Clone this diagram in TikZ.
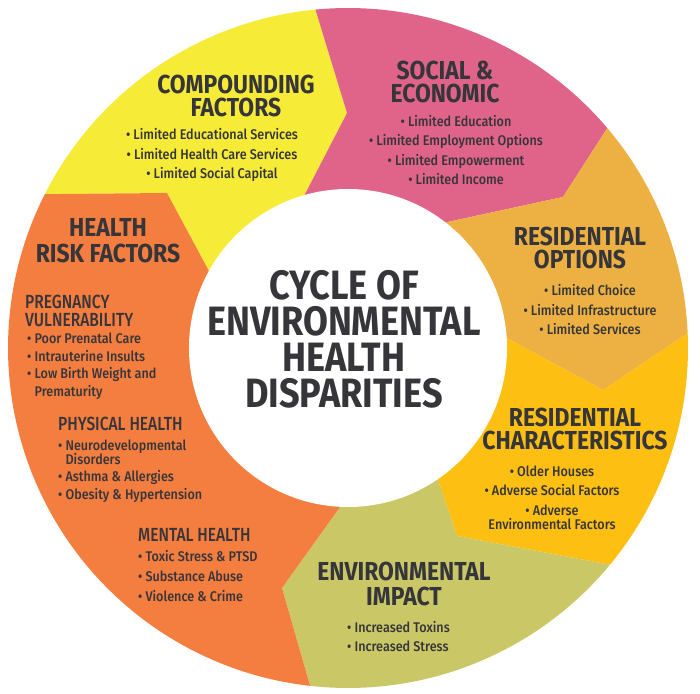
\documentclass[tikz,border=0pt]{standalone}
\usepackage{fontspec}
\usepackage{tikz}
\setmainfont{Fira Sans}
\newfontfamily\headfont{Fira Sans}[FakeStretch=0.88]
\newfontfamily\itemfont{Fira Sans Medium}[FakeStretch=0.9]
\newfontfamily\subfont{Fira Sans Medium}[FakeStretch=0.82]

\definecolor{cfyellow}{HTML}{F6EB36}
\definecolor{cfpink}{HTML}{E0648A}
\definecolor{cfamber}{HTML}{EDB043}
\definecolor{cfgold}{HTML}{FDBF12}
\definecolor{cfolive}{HTML}{CAC767}
\definecolor{cforange}{HTML}{F47D40}
\definecolor{cftext}{HTML}{35353A}

\tikzset{
  head/.style={font=\headfont\bfseries\fontsize{26}{23.5}\selectfont, text=cftext, align=center, inner sep=0pt},
  items/.style={font=\itemfont\fontsize{14}{19.5}\selectfont, text=cftext, align=center, inner sep=0pt},
  subhead/.style={font=\subfont\fontsize{19}{18}\selectfont, text=cftext, align=left, inner sep=0pt, anchor=west},
  subitems/.style={font=\itemfont\fontsize{14}{17.5}\selectfont, text=cftext, align=left, inner sep=0pt, anchor=west},
  title/.style={font=\headfont\bfseries\fontsize{41}{36}\selectfont, text=cftext, align=center, inner sep=0pt}
}

\begin{document}
\begin{tikzpicture}[x=1pt, y=1pt]

\useasboundingbox (0,0) rectangle (700,693);

\coordinate (c) at (348,345);

% chevron corners between the segments
\coordinate (yp-t) at (347,580);
\coordinate (yp-i) at (303,495);
\coordinate (po-t) at (563,496);
\coordinate (po-i) at (443,470);
\coordinate (oc-t) at (603,303);
\coordinate (oc-i) at (505,356);
\coordinate (ce-t) at (457,157);
\coordinate (ce-i) at (438,213);
\coordinate (eh-t) at (282,105);
\coordinate (eh-i) at (340,186);
\coordinate (hy-t) at (167,500);
\coordinate (hy-i) at (210,420);

\fill[cfyellow] (c) ++(153.1:340) arc[start angle=153.1, end angle=95.5, radius=340]
  -- (yp-t) -- (yp-i) -- (c) -- (hy-i) -- (hy-t) -- cycle;

\fill[cfpink] (c) ++(95.5:340) arc[start angle=95.5, end angle=40.3, radius=340]
  -- (po-t) -- (po-i) -- (c) -- (yp-i) -- (yp-t) -- cycle;

\fill[cfamber] (c) ++(40.3:340) arc[start angle=40.3, end angle=2.5, radius=340]
  -- (oc-t) -- (oc-i) -- (c) -- (po-i) -- (po-t) -- cycle;

\fill[cfgold] (c) ++(2.5:340) arc[start angle=2.5, end angle=-39.6, radius=340]
  -- (ce-t) -- (ce-i) -- (c) -- (oc-i) -- (oc-t) -- cycle;

\fill[cfolive] (c) ++(-39.6:340) arc[start angle=-39.6, end angle=-96.4, radius=340]
  -- (eh-t) -- (eh-i) -- (c) -- (ce-i) -- (ce-t) -- cycle;

\fill[cforange] (c) ++(-96.4:340) arc[start angle=-96.4, end angle=-206.9, radius=340]
  -- (hy-t) -- (hy-i) -- (c) -- (eh-i) -- (eh-t) -- cycle;

\fill[white] (c) circle[radius=159];

\node[title] (cycle) at (344,354) {CYCLE OF\\ENVIRONMENTAL\\HEALTH\\DISPARITIES};

% compounding factors
\node[head] (compounding) at (236,597) {COMPOUNDING\\FACTORS};
\node[items] (compounding-list) at (212,538) {• Limited Educational Services\\• Limited Health Care Services\\• Limited Social Capital};

% social and economic
\node[head] (social) at (445,611) {SOCIAL \&\\ECONOMIC};
\node[items] (social-list) at (456,543) {• Limited Education\\• Limited Employment Options\\• Limited Empowerment\\• Limited Income};

% residential options
\node[head] (options) at (580,445) {RESIDENTIAL\\OPTIONS};
\node[items] (options-list) at (590,383) {• Limited Choice\\• Limited Infrastructure\\• Limited Services};

% residential characteristics
\node[head] (characteristics) at (575,264) {RESIDENTIAL\\CHARACTERISTICS};
\node[items] (characteristics-list) at (552,195) {• Older Houses\\• Adverse Social Factors\\• Adverse\\[-5pt]Environmental Factors};

% environmental impact
\node[head, font=\headfont\bfseries\fontsize{26}{25}\selectfont] (impact) at (404,109) {ENVIRONMENTAL\\IMPACT};
\node[subitems, font=\itemfont\fontsize{14}{19}\selectfont] (impact-list) at (347,56) {• Increased Toxins\\• Increased Stress};

% health risk factors
\node[head, font=\headfont\bfseries\fontsize{26}{26}\selectfont] (health) at (108,452) {HEALTH\\RISK FACTORS};

\node[subhead] (pregnancy) at (25,382) {PREGNANCY\\VULNERABILITY};
\node[subitems] (pregnancy-list) at (27,327) {• Poor Prenatal Care\\• Intrauterine Insults\\• Low Birth Weight and\\\phantom{• }Prematurity};

\node[subhead] (physical) at (58,269) {PHYSICAL HEALTH};
\node[subitems] (physical-list) at (58,222) {• Neurodevelopmental\\[-4pt]\phantom{• }Disorders\\• Asthma \& Allergies\\• Obesity \& Hypertension};

\node[subhead] (mental) at (138,158) {MENTAL HEALTH};
\node[subitems, font=\itemfont\fontsize{14}{20}\selectfont] (mental-list) at (138,117) {• Toxic Stress \& PTSD\\• Substance Abuse\\• Violence \& Crime};

\end{tikzpicture}
\end{document}
